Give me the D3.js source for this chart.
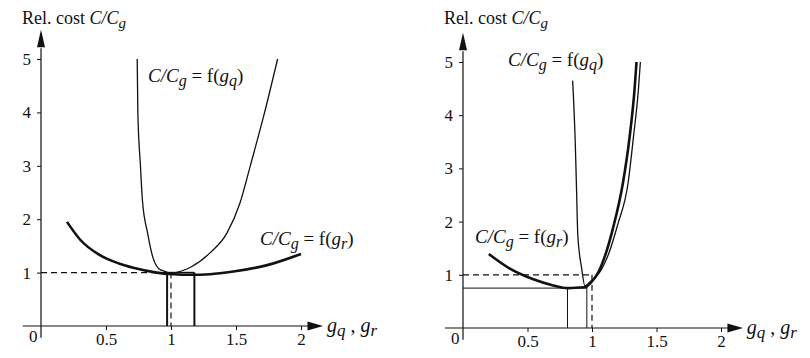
<!DOCTYPE html>
<html>
<head>
<meta charset="utf-8">
<script src="https://cdn.jsdelivr.net/npm/d3@7"></script>
<style>
  body { margin: 0; background: #fff; }
  svg { display: block; }
  svg text { font-family: 'Liberation Serif', 'DejaVu Serif', serif; }
</style>
</head>
<body>
<svg id="chart" width="810" height="358"></svg>
<script>
// axis ticks
const xTicks = [0.5, 1, 1.5, 2];
const yTicks = [1, 2, 3, 4, 5];

// left panel curves [g, C/Cg]
const leftGq = [[0.74, 5], [0.745, 4], [0.765, 3], [0.78, 2.36], [0.82, 1.74], [0.86, 1.29], [0.92, 1.05],
  [1.02, 0.99], [1.08, 1.03], [1.15, 1.1], [1.3, 1.37], [1.43, 1.74], [1.53, 2.3], [1.61, 3], [1.72, 4], [1.82, 5]];
const leftGr = [[0.2, 1.95], [0.3, 1.62], [0.45, 1.33], [0.6, 1.17], [0.71, 1.09], [0.89, 1.0], [1.02, 0.97],
  [1.15, 0.96], [1.3, 0.97], [1.48, 1.02], [1.74, 1.14], [2.0, 1.35]];

// right panel curves
const rightGq = [[0.85, 4.65], [0.87, 3.5], [0.88, 2.62], [0.89, 1.74], [0.92, 1.12], [0.945, 0.79],
  [0.985, 0.87], [1.06, 1.05], [1.13, 1.4], [1.2, 1.95], [1.28, 2.73], [1.32, 3.56], [1.36, 4.49], [1.375, 5]];
const rightGr = [[0.2, 1.39], [0.36, 1.12], [0.54, 0.92], [0.7, 0.8], [0.81, 0.75], [0.9, 0.76], [0.95, 0.77],
  [0.99, 0.85], [1.05, 1.05], [1.1, 1.35], [1.16, 1.85], [1.24, 2.73], [1.29, 3.56], [1.33, 4.49], [1.345, 5]];

// reference markers
const leftCost = 1.0;
const leftRange = [0.97, 1.18];
const leftOpt = 1.0;
const rightCost = 0.75;
const rightRange = [0.81, 0.96];
const rightOpt = 1.0;
const refCost = 1.0;

const svg = d3.select('#chart');
const serif = "'Liberation Serif', 'DejaVu Serif', serif";

function label(g, x, y, parts, size) {
  const t = g.append('text')
    .attr('x', x).attr('y', y)
    .attr('font-family', serif)
    .attr('font-size', size)
    .attr('fill', '#111');
  let shift = 0;
  for (const p of parts) {
    const dy = (p.sub ? 4 : 0) - shift;
    shift = p.sub ? 4 : 0;
    t.append('tspan')
      .attr('dy', dy)
      .attr('font-style', p.it ? 'italic' : 'normal')
      .attr('font-size', p.sub ? size - 3 : null)
      .text(p.t);
  }
  return t;
}

function costLabel(sub) {
  return [
    {t: 'C/C', it: true}, {t: 'g', it: true, sub: true},
    {t: ' = f(', it: false}, {t: 'g', it: true}, {t: sub, it: true, sub: true}, {t: ')', it: false}
  ];
}

function drawPanel(p) {
  const g = svg.append('g');
  const x = d3.scaleLinear().domain([0, 2]).range([p.x0, p.x2]);
  const y = d3.scaleLinear().domain([0, 5]).range([p.y0, p.y5]);

  // axes lines with arrows
  g.append('line')
    .attr('x1', x(-0.14)).attr('x2', x(2.06))
    .attr('y1', y(0)).attr('y2', y(0))
    .attr('stroke', '#111').attr('stroke-width', 1.2);
  g.append('path')
    .attr('d', `M${x(2.17)},${y(0)} L${x(2.05)},${y(0) - 4.5} L${x(2.05)},${y(0) + 4.5} Z`)
    .attr('fill', '#111');
  g.append('line')
    .attr('x1', x(0)).attr('x2', x(0))
    .attr('y1', y(-0.22)).attr('y2', y(5.2))
    .attr('stroke', '#111').attr('stroke-width', 1.2);
  g.append('path')
    .attr('d', `M${x(0)},${y(5.55)} L${x(0) - 4},${y(5.22)} L${x(0) + 4},${y(5.22)} Z`)
    .attr('fill', '#111');

  const xa = g.append('g')
    .attr('transform', `translate(0,${y(0)})`)
    .call(d3.axisBottom(x).tickValues(xTicks).tickSize(4).tickPadding(3)
      .tickFormat(d => String(d)));
  xa.select('.domain').remove();

  const ya = g.append('g')
    .attr('transform', `translate(${x(0)},0)`)
    .call(d3.axisLeft(y).tickValues(yTicks).tickSize(4).tickPadding(6)
      .tickFormat(d3.format('d')));
  ya.select('.domain').remove();

  xa.attr('font-family', serif).attr('font-size', 17);
  ya.attr('font-family', serif).attr('font-size', 17);
  g.selectAll('.tick text').attr('fill', '#111');
  g.selectAll('.tick line').attr('stroke', '#111');

  g.append('text')
    .attr('x', x(0) - 12).attr('y', y(0) + 16)
    .attr('font-family', serif).attr('font-size', 17)
    .attr('fill', '#111')
    .text('0');

  // reference lines
  p.marks(g, x, y, '6,4');

  // curves
  const line = d3.line().x(d => x(d[0])).y(d => y(d[1])).curve(d3.curveMonotoneX);
  g.append('path').datum(p.gq).attr('d', line)
    .attr('fill', 'none').attr('stroke', '#111').attr('stroke-width', 1.3);
  g.append('path').datum(p.gr).attr('d', line)
    .attr('fill', 'none').attr('stroke', '#111').attr('stroke-width', 2.6);

  // texts
  label(g, x(0) - 19, 24, [{t: 'Rel. cost '}, {t: 'C/C', it: true}, {t: 'g', it: true, sub: true}], 18);
  label(g, x(2.2), y(0) + 6, [{t: 'g', it: true}, {t: 'q', it: true, sub: true}, {t: ' , '}, {t: 'g', it: true}, {t: 'r', it: true, sub: true}], 20);
  label(g, p.gqLab[0], p.gqLab[1], costLabel('q'), 19);
  label(g, p.grLab[0], p.grLab[1], costLabel('r'), 19);
}

function seg(g, x1, y1, x2, y2, dash, w) {
  g.append('line')
    .attr('x1', x1).attr('y1', y1).attr('x2', x2).attr('y2', y2)
    .attr('stroke', '#111').attr('stroke-width', w || 1.2)
    .attr('stroke-dasharray', dash || null);
}

drawPanel({
  x0: 41, x2: 301, y0: 326, y5: 59,
  gq: leftGq, gr: leftGr,
  gqLab: [148, 82], grLab: [260, 245],
  marks: (g, x, y, dash) => {
    seg(g, x(0), y(refCost), x(leftRange[0]), y(refCost), dash);
    seg(g, x(leftRange[0]), y(leftCost), x(leftRange[1]), y(leftCost), null, 1.6);
    seg(g, x(leftRange[0]), y(leftCost), x(leftRange[0]), y(0), null, 2);
    seg(g, x(leftRange[1]), y(leftCost), x(leftRange[1]), y(0), null, 2);
    seg(g, x(leftOpt), y(leftCost), x(leftOpt), y(0), dash);
  }
});

drawPanel({
  x0: 463, x2: 721, y0: 328, y5: 62,
  gq: rightGq, gr: rightGr,
  gqLab: [508, 66], grLab: [475, 243],
  marks: (g, x, y, dash) => {
    seg(g, x(0), y(refCost), x(rightOpt), y(refCost), dash);
    seg(g, x(rightOpt), y(refCost), x(rightOpt), y(0), dash);
    seg(g, x(0), y(rightCost), x(rightRange[1]), y(rightCost), null, 1);
    seg(g, x(rightRange[0]), y(rightCost), x(rightRange[0]), y(0), null, 1);
    seg(g, x(rightRange[1]), y(0.78), x(rightRange[1]), y(0), null, 1);
  }
});
</script>
</body>
</html>
